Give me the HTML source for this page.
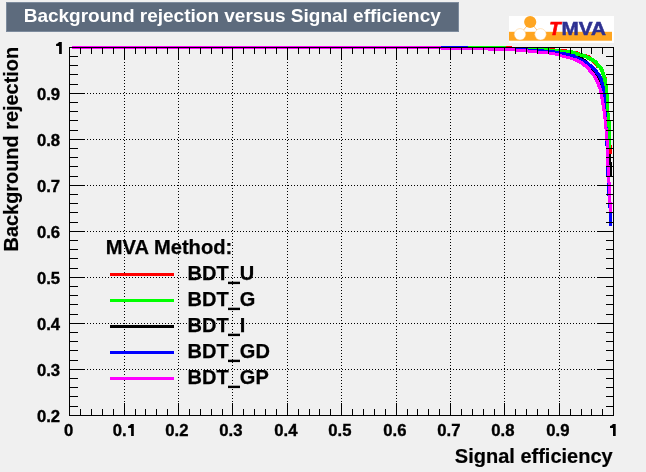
<!DOCTYPE html><html><head><meta charset="utf-8"><style>
html,body{margin:0;padding:0;background:#f0f0f0;}
body{width:646px;height:472px;overflow:hidden;position:relative;font-family:"Liberation Sans",sans-serif;}
svg{position:absolute;left:0;top:0;display:block;will-change:transform}
text{font-family:"Liberation Sans",sans-serif;font-weight:bold;fill:#000}
</style></head><body>
<svg width="646" height="472" viewBox="0 0 646 472">
<rect x="0" y="0" width="646" height="472" fill="#f0f0f0"/>
<rect x="6.5" y="2.5" width="452" height="29" fill="#5d6b7d" stroke="#7d8b9d" stroke-width="1" shape-rendering="crispEdges"/>
<text x="23.7" y="21.6" font-size="19" style="fill:#fff">Background rejection versus Signal efficiency</text>
<g>
<rect x="509" y="16" width="105" height="27" fill="#fff"/>
<rect x="509" y="31.8" width="103" height="8.9" fill="#ffa520"/>
<line x1="530.2" y1="22" x2="520" y2="34.3" stroke="#ffb85a" stroke-width="0.8"/>
<line x1="530.2" y1="22" x2="540.5" y2="34.3" stroke="#ffb85a" stroke-width="0.8"/>
<circle cx="530.2" cy="22" r="6.1" fill="#ffa520"/>
<circle cx="520" cy="34.3" r="5.7" fill="#fff" stroke="#ffc880" stroke-width="0.5"/>
<circle cx="540.5" cy="34.3" r="5.7" fill="#fff" stroke="#ffc880" stroke-width="0.5"/>
<text x="549.3" y="35" font-size="18.7" font-style="italic" style="fill:#ff0000;stroke:#ff0000;stroke-width:0.7px">T</text>
<text x="561.5" y="35" font-size="19" style="fill:#2e3192;stroke:#2e3192;stroke-width:0.5px" textLength="44.6" lengthAdjust="spacingAndGlyphs">MVA</text>
</g>
<g stroke="#000" stroke-width="1" shape-rendering="crispEdges" stroke-dasharray="1 2">
<line x1="124.5" y1="47" x2="124.5" y2="415"/>
<line x1="178.5" y1="47" x2="178.5" y2="415"/>
<line x1="232.5" y1="47" x2="232.5" y2="415"/>
<line x1="287.5" y1="47" x2="287.5" y2="415"/>
<line x1="341.5" y1="47" x2="341.5" y2="415"/>
<line x1="396.5" y1="47" x2="396.5" y2="415"/>
<line x1="450.5" y1="47" x2="450.5" y2="415"/>
<line x1="504.5" y1="47" x2="504.5" y2="415"/>
<line x1="559.5" y1="47" x2="559.5" y2="415"/>
<line x1="69" y1="93.5" x2="613" y2="93.5"/>
<line x1="69" y1="139.5" x2="613" y2="139.5"/>
<line x1="69" y1="185.5" x2="613" y2="185.5"/>
<line x1="69" y1="231.5" x2="613" y2="231.5"/>
<line x1="69" y1="277.5" x2="613" y2="277.5"/>
<line x1="69" y1="323.5" x2="613" y2="323.5"/>
<line x1="69" y1="369.5" x2="613" y2="369.5"/>
</g>
<g shape-rendering="crispEdges">
<path fill="#000000" d="M578 56h2v1h-2zM580 57h3v1h-3zM582 58h2v1h-2zM584 59h2v1h-2zM586 60h1v1h-1zM591 69h1v1h-1zM592 70h1v1h-1zM593 71h1v1h-1zM594 72h1v1h-1zM595 74h1v1h-1zM596 75h1v1h-1zM597 76h1v2h-1zM598 78h1v2h-1zM599 80h1v2h-1zM600 84h1v1h-1zM609 154h2v8h-2zM609 162h3v3h-3zM610 165h2v12h-2z"/>
<path fill="#ff0000" d="M506 46h6v1h-6zM544 47h11v1h-11zM550 48h5v1h-5zM561 49h6v1h-6zM576 51h2v1h-2zM579 52h1v1h-1zM586 54h1v1h-1zM588 55h2v1h-2zM590 56h1v1h-1zM592 62h1v1h-1zM593 63h1v1h-1zM594 64h1v1h-1zM595 65h1v1h-1zM596 67h1v1h-1zM606 77h1v1h-1zM611 145h1v4h-1zM609 149h3v5h-3z"/>
<path fill="#00ff00" d="M468 46h38v1h-38zM501 47h43v1h-43zM528 48h22v1h-22zM544 49h17v1h-17zM555 50h18v1h-18zM560 51h16v1h-16zM566 52h13v1h-13zM571 53h12v1h-12zM575 54h11v1h-11zM576 55h12v1h-12zM580 56h10v1h-10zM583 57h9v1h-9zM586 58h8v1h-8zM587 59h8v1h-8zM589 60h8v1h-8zM591 61h7v1h-7zM593 62h5v1h-5zM594 63h5v1h-5zM595 64h5v1h-5zM596 65h5v1h-5zM596 66h6v1h-6zM597 67h6v1h-6zM599 68h4v1h-4zM599 69h5v1h-5zM600 70h4v2h-4zM601 72h4v3h-4zM602 75h4v3h-4zM603 78h4v4h-4zM604 82h3v2h-3zM604 84h4v2h-4zM605 86h3v7h-3zM606 93h2v1h-2zM606 94h3v18h-3zM607 112h2v1h-2zM607 113h3v7h-3zM607 120h4v7h-4zM608 127h3v12h-3zM609 139h2v10h-2z"/>
<path fill="#0000ff" d="M441 46h27v1h-27zM488 47h13v1h-13zM516 48h12v1h-12zM528 49h16v1h-16zM537 50h18v1h-18zM549 51h11v1h-11zM555 52h11v1h-11zM560 53h10v1h-10zM562 54h13v1h-13zM566 55h10v1h-10zM570 56h8v1h-8zM573 57h7v1h-7zM577 58h5v1h-5zM579 59h5v1h-5zM581 60h5v1h-5zM583 61h5v1h-5zM584 62h5v1h-5zM585 63h5v1h-5zM587 64h5v1h-5zM588 65h5v1h-5zM589 66h5v1h-5zM590 67h5v1h-5zM591 68h5v1h-5zM592 69h5v1h-5zM593 70h5v1h-5zM594 71h4v1h-4zM595 72h4v1h-4zM595 73h5v1h-5zM596 74h5v1h-5zM597 75h4v1h-4zM598 76h4v2h-4zM599 78h4v2h-4zM600 80h3v2h-3zM600 82h4v2h-4zM601 84h3v2h-3zM601 86h4v2h-4zM602 88h3v3h-3zM603 91h2v2h-2zM603 93h3v4h-3zM604 97h2v6h-2zM605 103h1v6h-1zM606 112h1v5h-1zM607 127h1v1h-1zM605 141h1v5h-1zM606 166h1v11h-1zM607 183h1v13h-1zM608 203h1v5h-1zM611 212h1v1h-1zM609 213h3v13h-3z"/>
<path fill="#ff00ff" d="M72 46h369v1h-369zM72 47h416v1h-416zM72 48h444v1h-444zM441 49h87v1h-87zM488 50h49v1h-49zM516 51h33v1h-33zM528 52h27v1h-27zM537 53h23v1h-23zM549 54h13v1h-13zM555 55h11v1h-11zM560 56h10v1h-10zM562 57h11v1h-11zM566 58h11v1h-11zM570 59h9v1h-9zM573 60h8v1h-8zM575 61h8v1h-8zM577 62h7v1h-7zM579 63h6v1h-6zM581 64h6v1h-6zM582 65h6v1h-6zM583 66h6v1h-6zM585 67h5v1h-5zM586 68h5v1h-5zM587 69h4v1h-4zM588 70h4v1h-4zM588 71h5v1h-5zM589 72h5v1h-5zM590 73h5v1h-5zM591 74h4v1h-4zM592 75h4v1h-4zM593 76h4v2h-4zM594 78h4v2h-4zM595 80h4v2h-4zM596 82h4v2h-4zM597 84h3v1h-3zM597 85h4v2h-4zM598 87h3v1h-3zM598 88h4v1h-4zM599 89h3v2h-3zM599 91h4v2h-4zM600 93h3v4h-3zM600 97h4v2h-4zM601 99h3v4h-3zM601 103h4v2h-4zM602 105h3v4h-3zM602 109h4v2h-4zM603 111h3v6h-3zM603 117h4v2h-4zM604 119h3v9h-3zM604 128h4v1h-4zM605 129h3v10h-3zM605 139h4v2h-4zM606 141h3v24h-3zM606 165h4v1h-4zM607 166h3v16h-3zM607 182h4v1h-4zM608 183h3v19h-3zM608 202h4v1h-4zM609 203h3v9h-3zM609 212h2v1h-2z"/>
</g>
<g fill="#000" shape-rendering="crispEdges">
<rect x="69" y="47" width="545" height="1"/>
<rect x="69" y="415" width="545" height="1"/>
<rect x="69" y="47" width="1" height="369"/>
<rect x="613" y="47" width="1" height="369"/>
<rect x="80" y="47" width="1" height="7"/>
<rect x="80" y="409" width="1" height="7"/>
<rect x="91" y="47" width="1" height="7"/>
<rect x="91" y="409" width="1" height="7"/>
<rect x="102" y="47" width="1" height="7"/>
<rect x="102" y="409" width="1" height="7"/>
<rect x="113" y="47" width="1" height="7"/>
<rect x="113" y="409" width="1" height="7"/>
<rect x="124" y="47" width="1" height="13"/>
<rect x="124" y="403" width="1" height="13"/>
<rect x="135" y="47" width="1" height="7"/>
<rect x="135" y="409" width="1" height="7"/>
<rect x="145" y="47" width="1" height="7"/>
<rect x="145" y="409" width="1" height="7"/>
<rect x="156" y="47" width="1" height="7"/>
<rect x="156" y="409" width="1" height="7"/>
<rect x="167" y="47" width="1" height="7"/>
<rect x="167" y="409" width="1" height="7"/>
<rect x="178" y="47" width="1" height="13"/>
<rect x="178" y="403" width="1" height="13"/>
<rect x="189" y="47" width="1" height="7"/>
<rect x="189" y="409" width="1" height="7"/>
<rect x="200" y="47" width="1" height="7"/>
<rect x="200" y="409" width="1" height="7"/>
<rect x="211" y="47" width="1" height="7"/>
<rect x="211" y="409" width="1" height="7"/>
<rect x="222" y="47" width="1" height="7"/>
<rect x="222" y="409" width="1" height="7"/>
<rect x="232" y="47" width="1" height="13"/>
<rect x="232" y="403" width="1" height="13"/>
<rect x="243" y="47" width="1" height="7"/>
<rect x="243" y="409" width="1" height="7"/>
<rect x="254" y="47" width="1" height="7"/>
<rect x="254" y="409" width="1" height="7"/>
<rect x="265" y="47" width="1" height="7"/>
<rect x="265" y="409" width="1" height="7"/>
<rect x="276" y="47" width="1" height="7"/>
<rect x="276" y="409" width="1" height="7"/>
<rect x="287" y="47" width="1" height="13"/>
<rect x="287" y="403" width="1" height="13"/>
<rect x="298" y="47" width="1" height="7"/>
<rect x="298" y="409" width="1" height="7"/>
<rect x="309" y="47" width="1" height="7"/>
<rect x="309" y="409" width="1" height="7"/>
<rect x="319" y="47" width="1" height="7"/>
<rect x="319" y="409" width="1" height="7"/>
<rect x="330" y="47" width="1" height="7"/>
<rect x="330" y="409" width="1" height="7"/>
<rect x="341" y="47" width="1" height="13"/>
<rect x="341" y="403" width="1" height="13"/>
<rect x="352" y="47" width="1" height="7"/>
<rect x="352" y="409" width="1" height="7"/>
<rect x="363" y="47" width="1" height="7"/>
<rect x="363" y="409" width="1" height="7"/>
<rect x="374" y="47" width="1" height="7"/>
<rect x="374" y="409" width="1" height="7"/>
<rect x="385" y="47" width="1" height="7"/>
<rect x="385" y="409" width="1" height="7"/>
<rect x="396" y="47" width="1" height="13"/>
<rect x="396" y="403" width="1" height="13"/>
<rect x="407" y="47" width="1" height="7"/>
<rect x="407" y="409" width="1" height="7"/>
<rect x="417" y="47" width="1" height="7"/>
<rect x="417" y="409" width="1" height="7"/>
<rect x="428" y="47" width="1" height="7"/>
<rect x="428" y="409" width="1" height="7"/>
<rect x="439" y="47" width="1" height="7"/>
<rect x="439" y="409" width="1" height="7"/>
<rect x="450" y="47" width="1" height="13"/>
<rect x="450" y="403" width="1" height="13"/>
<rect x="461" y="47" width="1" height="7"/>
<rect x="461" y="409" width="1" height="7"/>
<rect x="472" y="47" width="1" height="7"/>
<rect x="472" y="409" width="1" height="7"/>
<rect x="483" y="47" width="1" height="7"/>
<rect x="483" y="409" width="1" height="7"/>
<rect x="494" y="47" width="1" height="7"/>
<rect x="494" y="409" width="1" height="7"/>
<rect x="504" y="47" width="1" height="13"/>
<rect x="504" y="403" width="1" height="13"/>
<rect x="515" y="47" width="1" height="7"/>
<rect x="515" y="409" width="1" height="7"/>
<rect x="526" y="47" width="1" height="7"/>
<rect x="526" y="409" width="1" height="7"/>
<rect x="537" y="47" width="1" height="7"/>
<rect x="537" y="409" width="1" height="7"/>
<rect x="548" y="47" width="1" height="7"/>
<rect x="548" y="409" width="1" height="7"/>
<rect x="559" y="47" width="1" height="13"/>
<rect x="559" y="403" width="1" height="13"/>
<rect x="570" y="47" width="1" height="7"/>
<rect x="570" y="409" width="1" height="7"/>
<rect x="581" y="47" width="1" height="7"/>
<rect x="581" y="409" width="1" height="7"/>
<rect x="591" y="47" width="1" height="7"/>
<rect x="591" y="409" width="1" height="7"/>
<rect x="602" y="47" width="1" height="7"/>
<rect x="602" y="409" width="1" height="7"/>
<rect x="69" y="56" width="9" height="1"/>
<rect x="606" y="56" width="8" height="1"/>
<rect x="69" y="65" width="9" height="1"/>
<rect x="606" y="65" width="8" height="1"/>
<rect x="69" y="74" width="9" height="1"/>
<rect x="606" y="74" width="8" height="1"/>
<rect x="69" y="84" width="9" height="1"/>
<rect x="606" y="84" width="8" height="1"/>
<rect x="69" y="93" width="16" height="1"/>
<rect x="597" y="93" width="17" height="1"/>
<rect x="69" y="102" width="9" height="1"/>
<rect x="606" y="102" width="8" height="1"/>
<rect x="69" y="111" width="9" height="1"/>
<rect x="606" y="111" width="8" height="1"/>
<rect x="69" y="120" width="9" height="1"/>
<rect x="606" y="120" width="8" height="1"/>
<rect x="69" y="130" width="9" height="1"/>
<rect x="606" y="130" width="8" height="1"/>
<rect x="69" y="139" width="16" height="1"/>
<rect x="597" y="139" width="17" height="1"/>
<rect x="69" y="148" width="9" height="1"/>
<rect x="606" y="148" width="8" height="1"/>
<rect x="69" y="157" width="9" height="1"/>
<rect x="606" y="157" width="8" height="1"/>
<rect x="69" y="166" width="9" height="1"/>
<rect x="606" y="166" width="8" height="1"/>
<rect x="69" y="176" width="9" height="1"/>
<rect x="606" y="176" width="8" height="1"/>
<rect x="69" y="185" width="16" height="1"/>
<rect x="597" y="185" width="17" height="1"/>
<rect x="69" y="194" width="9" height="1"/>
<rect x="606" y="194" width="8" height="1"/>
<rect x="69" y="203" width="9" height="1"/>
<rect x="606" y="203" width="8" height="1"/>
<rect x="69" y="212" width="9" height="1"/>
<rect x="606" y="212" width="8" height="1"/>
<rect x="69" y="222" width="9" height="1"/>
<rect x="606" y="222" width="8" height="1"/>
<rect x="69" y="231" width="16" height="1"/>
<rect x="597" y="231" width="17" height="1"/>
<rect x="69" y="240" width="9" height="1"/>
<rect x="606" y="240" width="8" height="1"/>
<rect x="69" y="249" width="9" height="1"/>
<rect x="606" y="249" width="8" height="1"/>
<rect x="69" y="258" width="9" height="1"/>
<rect x="606" y="258" width="8" height="1"/>
<rect x="69" y="268" width="9" height="1"/>
<rect x="606" y="268" width="8" height="1"/>
<rect x="69" y="277" width="16" height="1"/>
<rect x="597" y="277" width="17" height="1"/>
<rect x="69" y="286" width="9" height="1"/>
<rect x="606" y="286" width="8" height="1"/>
<rect x="69" y="295" width="9" height="1"/>
<rect x="606" y="295" width="8" height="1"/>
<rect x="69" y="304" width="9" height="1"/>
<rect x="606" y="304" width="8" height="1"/>
<rect x="69" y="314" width="9" height="1"/>
<rect x="606" y="314" width="8" height="1"/>
<rect x="69" y="323" width="16" height="1"/>
<rect x="597" y="323" width="17" height="1"/>
<rect x="69" y="332" width="9" height="1"/>
<rect x="606" y="332" width="8" height="1"/>
<rect x="69" y="341" width="9" height="1"/>
<rect x="606" y="341" width="8" height="1"/>
<rect x="69" y="350" width="9" height="1"/>
<rect x="606" y="350" width="8" height="1"/>
<rect x="69" y="360" width="9" height="1"/>
<rect x="606" y="360" width="8" height="1"/>
<rect x="69" y="369" width="16" height="1"/>
<rect x="597" y="369" width="17" height="1"/>
<rect x="69" y="378" width="9" height="1"/>
<rect x="606" y="378" width="8" height="1"/>
<rect x="69" y="387" width="9" height="1"/>
<rect x="606" y="387" width="8" height="1"/>
<rect x="69" y="396" width="9" height="1"/>
<rect x="606" y="396" width="8" height="1"/>
<rect x="69" y="406" width="9" height="1"/>
<rect x="606" y="406" width="8" height="1"/>
</g>
<g font-size="16.7" stroke="#000" stroke-width="0.35">
<text x="68.7" y="436" text-anchor="middle">0</text>
<text x="112.7" y="436">0.</text>
<path stroke="none" fill="#000" d="M131.10,424.00 L133.80,424.00 L133.80,436.00 L131.10,436.00 L131.10,427.90 L128.10,427.90 L128.10,425.90 Q130.40,425.70 130.95,424.00 Z"/>
<text x="176.9" y="436" text-anchor="middle">0.2</text>
<text x="230.9" y="436" text-anchor="middle">0.3</text>
<text x="285.9" y="436" text-anchor="middle">0.4</text>
<text x="339.9" y="436" text-anchor="middle">0.5</text>
<text x="394.9" y="436" text-anchor="middle">0.6</text>
<text x="448.9" y="436" text-anchor="middle">0.7</text>
<text x="502.9" y="436" text-anchor="middle">0.8</text>
<text x="557.9" y="436" text-anchor="middle">0.9</text>
<path stroke="none" fill="#000" d="M613.00,424.00 L615.70,424.00 L615.70,436.00 L613.00,436.00 L613.00,427.90 L610.00,427.90 L610.00,425.90 Q612.30,425.70 612.85,424.00 Z"/>
<path stroke="none" fill="#000" d="M59.10,42.00 L61.80,42.00 L61.80,54.00 L59.10,54.00 L59.10,45.90 L56.10,45.90 L56.10,43.90 Q58.40,43.70 58.95,42.00 Z"/>
<text x="60.1" y="99.8" text-anchor="end">0.9</text>
<text x="60.1" y="145.8" text-anchor="end">0.8</text>
<text x="60.1" y="191.8" text-anchor="end">0.7</text>
<text x="60.1" y="237.8" text-anchor="end">0.6</text>
<text x="60.1" y="283.8" text-anchor="end">0.5</text>
<text x="60.1" y="329.8" text-anchor="end">0.4</text>
<text x="60.1" y="375.8" text-anchor="end">0.3</text>
<text x="60.1" y="421.8" text-anchor="end">0.2</text>
</g>
<text x="612.7" y="463" font-size="20" stroke="#000" stroke-width="0.2" text-anchor="end">Signal efficiency</text>
<text transform="translate(18.1,46.9) rotate(-90)" font-size="19.9" stroke="#000" stroke-width="0.2" text-anchor="end">Background rejection</text>
<text x="105.8" y="254" font-size="20.15" stroke="#000" stroke-width="0.25">MVA Method:</text>
<rect x="110" y="273" width="64" height="3" fill="#ff0000" shape-rendering="crispEdges"/>
<text x="187.6" y="279.6" font-size="20" stroke="#000" stroke-width="0.25">BDT<tspan style="fill:none;stroke:none">_</tspan>U</text>
<rect x="228" y="281.7" width="12" height="2.4" fill="#000"/>
<rect x="110" y="299" width="64" height="3" fill="#00ff00" shape-rendering="crispEdges"/>
<text x="187.6" y="305.6" font-size="20" stroke="#000" stroke-width="0.25">BDT<tspan style="fill:none;stroke:none">_</tspan>G</text>
<rect x="228" y="307.7" width="12" height="2.4" fill="#000"/>
<rect x="110" y="325" width="64" height="3" fill="#000000" shape-rendering="crispEdges"/>
<text x="187.6" y="331.6" font-size="20" stroke="#000" stroke-width="0.25">BDT<tspan style="fill:none;stroke:none">_</tspan>I</text>
<rect x="228" y="333.7" width="12" height="2.4" fill="#000"/>
<rect x="110" y="351" width="64" height="3" fill="#0000ff" shape-rendering="crispEdges"/>
<text x="187.6" y="357.6" font-size="20" stroke="#000" stroke-width="0.25">BDT<tspan style="fill:none;stroke:none">_</tspan>GD</text>
<rect x="228" y="359.7" width="12" height="2.4" fill="#000"/>
<rect x="110" y="377" width="64" height="3" fill="#ff00ff" shape-rendering="crispEdges"/>
<text x="187.6" y="383.6" font-size="20" stroke="#000" stroke-width="0.25">BDT<tspan style="fill:none;stroke:none">_</tspan>GP</text>
<rect x="228" y="385.7" width="12" height="2.4" fill="#000"/>
</svg></body></html>
